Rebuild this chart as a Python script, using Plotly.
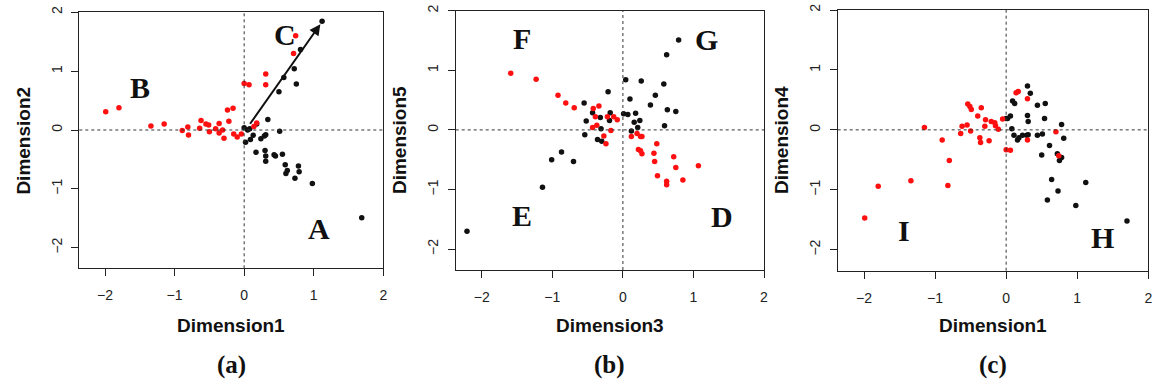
import plotly.graph_objects as go

# ---------------- data ----------------
# Panel (a): Dimension1 vs Dimension2
a_red_x = [-1.99, -1.80, -1.34, -1.15, -0.89, -0.81, -0.80, -0.64, -0.62, -0.55, -0.51, -0.50, -0.41, -0.36,
           -0.31, -0.36, -0.29, -0.24, -0.16, -0.22, -0.15, -0.10, -0.04, 0.00, 0.07, 0.31, 0.31, 0.74, 0.71,
           0.18, 0.14]
a_red_y = [0.31, 0.38, 0.07, 0.10, -0.01, 0.05, -0.085, 0.03, 0.16, 0.10, 0.085, -0.03, 0.02, 0.11,
           0.0, -0.05, -0.14, 0.34, 0.37, 0.15, -0.07, -0.12, -0.07, 0.79, 0.77, 0.95, 0.77, 1.60, 1.30,
           0.12, 0.06]
a_blk_x = [1.12, 0.81, 0.72, 0.75, 0.57, 0.50, 0.34, 0.51, 0.31, 0.29, 0.24, 0.18, 0.13, 0.09, 0.02, 0.08,
           0.00, 0.05, 0.17, 0.30, 0.31, 0.31, 0.43, 0.45, 0.55, 0.59, 0.62, 0.60, 0.73, 0.78, 0.79, 0.98, 1.69]
a_blk_y = [1.85, 1.37, 1.04, 0.78, 0.89, 0.65, 0.18, -0.02, -0.08, -0.10, -0.15, 0.10, -0.09, -0.16, -0.21,
           0.02, 0.04, 0.00, -0.38, -0.35, -0.44, -0.53, -0.42, -0.44, -0.41, -0.59, -0.69, -0.74, -0.82,
           -0.61, -0.71, -0.91, -1.49]
arrow_start = [0.07, 0.08]
arrow_end = [1.12, 1.84]

# Panel (b): Dimension3 vs Dimension5
b_red_x = [-1.59, -1.23, -0.92, -0.81, -0.69, -0.42, -0.34, -0.39, -0.37, -0.43, -0.27, -0.24, -0.22, -0.13,
           -0.08, -0.17, 0.12, 0.20, 0.25, 0.27, 0.22, 0.25, 0.27, 0.44, 0.45, 0.48, 0.49, 0.62, 0.62, 0.72,
           0.75, 0.85, 1.07]
b_red_y = [0.95, 0.85, 0.58, 0.45, 0.37, 0.36, 0.40, 0.22, 0.08, 0.04, -0.10, -0.23, 0.22, 0.22, 0.17,
           -0.01, -0.11, -0.06, -0.11, -0.11, -0.33, -0.35, -0.40, -0.39, -0.53, -0.23, -0.77, -0.86, -0.92,
           -0.45, -0.63, -0.84, -0.60]
b_blk_x = [-2.21, -1.14, -1.01, -0.87, -0.70, -0.55, -0.52, -0.54, -0.43, -0.32, -0.36, -0.31, -0.30, -0.21,
           -0.18, -0.19, 0.04, 0.01, 0.07, 0.10, 0.12, 0.16, 0.18, 0.21, 0.24, 0.26, 0.46, 0.39, 0.58, 0.63,
           0.62, 0.79, 0.59, 0.75]
b_blk_y = [-1.70, -0.96, -0.50, -0.37, -0.53, 0.45, 0.15, -0.08, 0.29, 0.21, -0.16, 0.02, -0.19, 0.64,
           0.29, 0.16, 0.84, 0.27, 0.26, 0.52, -0.02, 0.13, 0.28, 0.04, 0.16, 0.82, 0.58, 0.42, 0.77, 0.34,
           1.26, 1.51, 0.07, 0.31]

# Panel (c): Dimension1 vs Dimension4
c_red_x = [-1.99, -1.80, -1.34, -1.15, -0.90, -0.80, -0.82, -0.64, -0.62, -0.55, -0.54, -0.51, -0.49, -0.50,
           -0.40, -0.35, -0.37, -0.36, -0.30, -0.29, -0.24, -0.21, -0.16, -0.15, -0.11, -0.05, 0.00, 0.06,
           0.14, 0.17, 0.30, 0.30, 0.70, 0.74]
c_red_y = [-1.47, -0.94, -0.85, 0.04, -0.17, -0.51, -0.93, -0.06, 0.06, 0.08, 0.43, 0.39, 0.34, -0.02,
           0.23, 0.37, -0.13, -0.21, 0.06, 0.17, -0.18, 0.14, 0.12, 0.07, 0.01, 0.18, -0.33, -0.34,
           0.62, 0.64, 0.52, -0.17, -0.03, -0.43]
c_blk_x = [0.30, 0.34, 0.09, 0.12, 0.06, 0.00, 0.02, 0.30, 0.31, 0.44, 0.55, 0.54, 0.78, 0.81, 0.08, 0.11,
           0.16, 0.18, 0.23, 0.29, 0.31, 0.44, 0.51, 0.50, 0.61, 0.72, 0.75, 0.78, 0.64, 0.73, 0.58, 1.12,
           0.98, 1.70]
c_blk_y = [0.73, 0.61, 0.48, 0.44, 0.23, 0.19, 0.19, 0.24, 0.14, 0.41, 0.44, 0.19, 0.09, -0.14, 0.02, -0.09,
           -0.17, -0.13, -0.09, -0.09, -0.08, -0.09, -0.07, -0.42, -0.26, -0.40, -0.51, -0.46, -0.83, -1.02,
           -1.17, -0.88, -1.26, -1.52]

x_titles = ["Dimension1", "Dimension3", "Dimension1"]
y_titles = ["Dimension2", "Dimension5", "Dimension4"]
panel_tags = ["(a)", "(b)", "(c)"]
quad_labels = [
    [("A", 1.07, -1.67), ("B", -1.50, 0.73), ("C", 0.59, 1.62)],
    [("D", 1.41, -1.45), ("E", -1.43, -1.44), ("F", -1.43, 1.54), ("G", 1.18, 1.51)],
    [("H", 1.35, -1.80), ("I", -1.44, -1.68)],
]
tick_vals = [-2, -1, 0, 1, 2]
tick_text = ["\u22122", "\u22121", "0", "1", "2"]

# ---------------- layout geometry ----------------
W, H = 1160, 388
x_domains = [[79.3 / W, 383.3 / W], [455.7 / W, 764.0 / W], [837.7 / W, 1148.3 / W]]
y_domains = [[1 - 268.3 / H, 1 - 12.3 / H], [1 - 270.0 / H, 1 - 10.7 / H], [1 - 270.7 / H, 1 - 10.0 / H]]
x_range = [-2.37, 2.0]
y_range = [-2.35, 2.0]

RED = "#ff1010"
BLK = "#111111"
SANS = "Liberation Sans"
SERIF = "Liberation Serif"

fig = go.Figure()
panels = [(a_red_x, a_red_y, a_blk_x, a_blk_y),
          (b_red_x, b_red_y, b_blk_x, b_blk_y),
          (c_red_x, c_red_y, c_blk_x, c_blk_y)]

for i, (rx, ry, bx, by) in enumerate(panels):
    sfx = "" if i == 0 else str(i + 1)
    fig.add_trace(go.Scatter(x=bx, y=by, mode="markers", xaxis="x" + sfx, yaxis="y" + sfx,
                             marker=dict(color=BLK, size=5.5), showlegend=False))
    fig.add_trace(go.Scatter(x=rx, y=ry, mode="markers", xaxis="x" + sfx, yaxis="y" + sfx,
                             marker=dict(color=RED, size=5.5), showlegend=False))

layout = dict(width=W, height=H, margin=dict(l=0, r=0, t=0, b=0, autoexpand=False),
              paper_bgcolor="white", plot_bgcolor="white", showlegend=False)
axis_common = dict(showgrid=False, zeroline=False, showline=True, linecolor="#222", linewidth=1.2,
                   mirror=True, ticks="outside", ticklen=7, tickwidth=1, tickcolor="#222",
                   tickvals=tick_vals, ticktext=tick_text, automargin=False,
                   tickfont=dict(family=SANS, size=14, color="#222"))
annotations = []
shapes = []
for i in range(3):
    sfx = "" if i == 0 else str(i + 1)
    layout["xaxis" + sfx] = dict(axis_common, domain=x_domains[i], range=x_range,
                                 anchor="y" + sfx, ticklabelstandoff=7)
    layout["yaxis" + sfx] = dict(axis_common, domain=y_domains[i], range=y_range,
                                 anchor="x" + sfx, tickangle=-90, ticklabelstandoff=4)
    # dashed reference lines
    shapes.append(dict(type="line", xref="x" + sfx, yref="y" + sfx + " domain", x0=0, x1=0, y0=0, y1=1,
                       line=dict(color="#333", width=1, dash="3px,3px")))
    shapes.append(dict(type="line", xref="x" + sfx + " domain", yref="y" + sfx, x0=0, x1=1, y0=0, y1=0,
                       line=dict(color="#333", width=1, dash="3px,3px")))
    cx = (x_domains[i][0] + x_domains[i][1]) / 2
    cy = (y_domains[i][0] + y_domains[i][1]) / 2
    annotations.append(dict(text="<b>%s</b>" % x_titles[i], xref="paper", yref="paper", x=cx, y=1 - 325 / H,
                            xanchor="center", yanchor="middle",
                            showarrow=False, font=dict(family=SANS, size=19, color="#111")))
    annotations.append(dict(text="<b>%s</b>" % y_titles[i], xref="paper", yref="paper",
                            x=x_domains[i][0] - 56 / W, y=cy, textangle=-90,
                            xanchor="center", yanchor="middle",
                            showarrow=False, font=dict(family=SANS, size=19, color="#111")))
    annotations.append(dict(text="<b>%s</b>" % panel_tags[i], xref="paper", yref="paper", x=cx, y=1 - 365 / H,
                            xanchor="center", yanchor="middle",
                            showarrow=False, font=dict(family=SERIF, size=25, color="#111")))
    for lab, lx, ly in quad_labels[i]:
        annotations.append(dict(text="<b>%s</b>" % lab, xref="x" + sfx, yref="y" + sfx, x=lx, y=ly,
                                xanchor="center", yanchor="middle",
                                showarrow=False, font=dict(family=SERIF, size=30, color="#111")))

annotations.append(dict(x=arrow_end[0], y=arrow_end[1], ax=arrow_start[0], ay=arrow_start[1],
                        xref="x", yref="y", axref="x", ayref="y", text="", showarrow=True,
                        arrowhead=2, arrowsize=1.1, arrowwidth=2, arrowcolor="#111", standoff=3))
layout["annotations"] = annotations
layout["shapes"] = shapes
fig.update_layout(**layout)
fig.write_html("out.html", config={"displayModeBar": False},
               post_script="document.body.style.margin='0';")
